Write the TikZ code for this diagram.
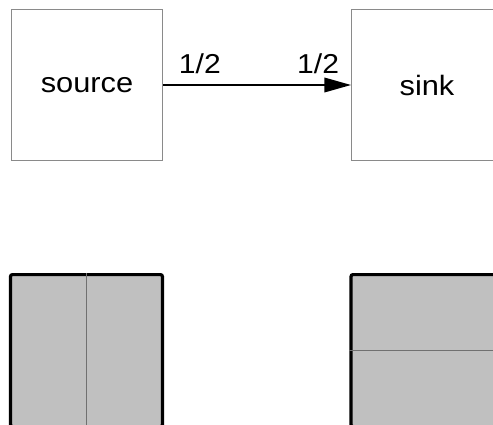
\documentclass[tikz,border=0pt]{standalone}
\usepackage{fontspec}
\setmainfont[FakeStretch=1.1]{Liberation Sans}
\usepackage{xcolor}
\usepackage{tikz}
\usetikzlibrary{arrows.meta,positioning}

\definecolor{boxline}{HTML}{8A8A8A}
\definecolor{buffill}{HTML}{C0C0C0}
\definecolor{bufline}{HTML}{707070}

\tikzset{
  actor/.style={draw=boxline,line width=0.75pt,rectangle,minimum size=113.25pt,
    inner sep=0pt,font=\fontsize{21}{25}\selectfont},
  buffer/.style={draw=black,line width=2.4pt,rectangle,rounded corners=1.5pt,
    fill=buffill,minimum size=114pt,inner sep=0pt},
  rate/.style={anchor=base,inner sep=0pt,font=\fontsize{20.5}{24}\selectfont},
  split/.style={draw=bufline,line width=0.8pt}
}

\begin{document}
\begin{tikzpicture}[node distance=141pt]
\clip[use as bounding box] (0,0) rectangle (369.75pt,-318.75pt);

% actors
\node[actor] (source) at (65.25pt,-63.75pt) {source};
\node[actor,right=of source] (sink) {sink};

% buffers below the actors
\node[buffer,below=84pt of source.south,anchor=north,xshift=-0.4pt] (srcbuf) {};
\node[buffer,below=84pt of sink.south,anchor=north] (snkbuf) {};

\draw[-{Triangle[length=20pt,width=11pt]},line width=1.1pt] (source) -- (sink)
  node[rate,pos=0.196,yshift=9pt] (outrate) {1/2}
  node[rate,pos=0.825,yshift=9pt] (inrate) {1/2};

\draw[split] (srcbuf.north) -- (srcbuf.south);
\draw[split] (snkbuf.west) -- (snkbuf.east);
\end{tikzpicture}
\end{document}
